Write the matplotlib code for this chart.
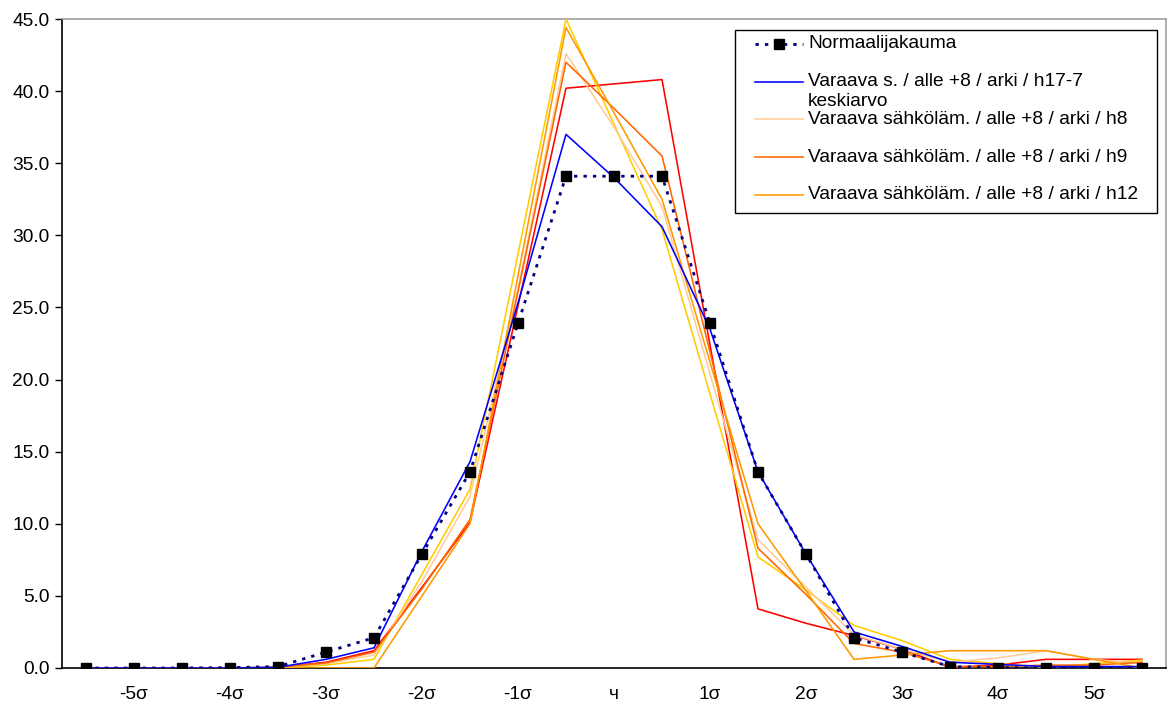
import matplotlib
matplotlib.use('Agg')
import matplotlib.pyplot as plt
from matplotlib.lines import Line2D
from matplotlib.patches import Rectangle

plt.rcParams['font.family'] = ['Liberation Sans', 'DejaVu Sans']

x_labels = ['', '-5σ', '', '-4σ', '', '-3σ', '', '-2σ', '', '-1σ', '', 'ч',
            '', '1σ', '', '2σ', '', '3σ', '', '4σ', '', '5σ', '']

normaali = [0, 0, 0, 0.03, 0.1, 1.1, 2.1, 7.9, 13.6, 23.9, 34.1, 34.1, 34.1,
            23.9, 13.6, 7.9, 2.1, 1.1, 0.1, 0.03, 0, 0, 0]
h17_7 = [0, 0, 0, 0, 0.05, 0.6, 1.4, 8.1, 14.3, 25.3, 37.0, 34.0, 30.6,
         23.5, 13.6, 7.9, 2.5, 1.5, 0.4, 0.25, 0.1, 0.1, 0.1]
h8 = [0, 0, 0, 0, 0.05, 0.3, 0.9, 6.0, 11.9, 26.3, 42.6, 37.5, 32.0,
      20.4, 8.9, 5.6, 2.3, 1.3, 0.4, 0.7, 1.2, 0.6, 0.3]
h9 = [0, 0, 0, 0, 0.05, 0.35, 1.1, 5.5, 10.3, 26.1, 42.0, 38.8, 35.5,
      21.9, 8.3, 5.1, 1.7, 1.1, 0.1, 0.1, 0.2, 0.2, 0.4]
h12 = [0, 0, 0, 0, 0, 0, 0, 5.0, 10.0, 27.2, 44.4, 38.5, 32.5,
       21.2, 10.0, 5.35, 0.6, 0.9, 1.2, 1.2, 1.2, 0.6, 0]
punainen = [0, 0, 0, 0, 0.05, 0.4, 1.2, 5.6, 10.1, 25.1, 40.2, 40.5, 40.8,
            22.4, 4.1, 3.1, 2.25, 1.3, 0.05, 0.2, 0.6, 0.6, 0.6]
keltainen = [0, 0, 0, 0, 0, 0.2, 0.6, 6.5, 12.4, 28.7, 45.0, 37.7, 30.4,
             19.0, 7.7, 5.4, 2.95, 1.9, 0.6, 0.3, 0.05, 0.3, 0.55]

legend_labels = ['Normaalijakauma',
                 'Varaava s. / alle +8 / arki / h17-7',
                 'Varaava sähköläm. / alle +8 / arki / h8',
                 'Varaava sähköläm. / alle +8 / arki / h9',
                 'Varaava sähköläm. / alle +8 / arki / h12']

FS = 13.8
x = list(range(len(x_labels)))

fig = plt.figure(figsize=(11.68, 7.05), dpi=100)
ax = fig.add_axes([62/1168, 1 - 668/705, 1104/1168, 649/705])

lw = 1.15
ax.plot(x, punainen, color='#FF0000', lw=lw, zorder=3)
ax.plot(x, keltainen, color='#FFCC00', lw=lw, zorder=3)
ax.plot(x, h8, color='#FFCC99', lw=lw, zorder=3)
ax.plot(x, h9, color='#FF6600', lw=lw, zorder=3)
ax.plot(x, h12, color='#FF9900', lw=lw, zorder=3)
ax.plot(x, h17_7, color='#0000FF', lw=lw, zorder=4)
ax.plot(x, normaali, color='#000080', lw=2, linestyle=(0, (1.2, 2.2)),
        marker='s', markersize=7.3, markerfacecolor='black',
        markeredgecolor='black', zorder=5)

ax.set_xlim(-0.5, len(x) - 0.5)
ax.set_ylim(0, 45)
ax.set_yticks([i * 5 for i in range(10)])
ax.set_yticklabels(['%.1f' % (i * 5) for i in range(10)], fontsize=FS)
ax.set_xticks(x)
ax.set_xticklabels(x_labels, fontsize=FS)
ax.tick_params(axis='x', length=0, pad=13)
ax.tick_params(axis='y', length=5, width=1, direction='out', pad=4)

for s in ['left', 'bottom']:
    ax.spines[s].set_color('black')
    ax.spines[s].set_linewidth(1.2)
for s in ['top', 'right']:
    ax.spines[s].set_color('#A0A0A0')
    ax.spines[s].set_linewidth(1.2)


# legend drawn by hand to match the clipped Excel legend
def ax_xy(px, py):
    return (px - 62) / 1104, (668 - py) / 649


x0, y0 = ax_xy(735, 213)
x1, y1 = ax_xy(1157, 30)
ax.add_patch(Rectangle((x0, y0), x1 - x0, y1 - y0, transform=ax.transAxes,
                       facecolor='white', edgecolor='black', lw=1, zorder=10))

handles = [('#000080', True), ('#0000FF', False), ('#FFCC99', False),
           ('#FF6600', False), ('#FF9900', False)]
rows = [43.5, 81.5, 119, 157, 194.5]
for (col, dotted), py, lab in zip(handles, rows, legend_labels):
    ha, ya = ax_xy(755, py)
    hb, _ = ax_xy(803, py)
    if dotted:
        ax.add_line(Line2D([ha, hb], [ya, ya], transform=ax.transAxes,
                           color=col, lw=2, linestyle=(0, (1.2, 2.2)), zorder=11))
        hm, _ = ax_xy(779, py)
        ax.add_line(Line2D([hm], [ya], transform=ax.transAxes, marker='s',
                           markersize=7.3, color='black', zorder=12))
    else:
        ax.add_line(Line2D([ha, hb], [ya, ya], transform=ax.transAxes,
                           color=col, lw=lw, zorder=11))
    tx, ty = ax_xy(808, py)
    ax.text(tx, ty, lab, transform=ax.transAxes, fontsize=FS,
            va='center', ha='left', zorder=12)

tx, ty = ax_xy(808, 101)
ax.text(tx, ty, 'keskiarvo', transform=ax.transAxes, fontsize=FS,
        va='center', ha='left', zorder=12)

fig.savefig('out.png', dpi=100)
